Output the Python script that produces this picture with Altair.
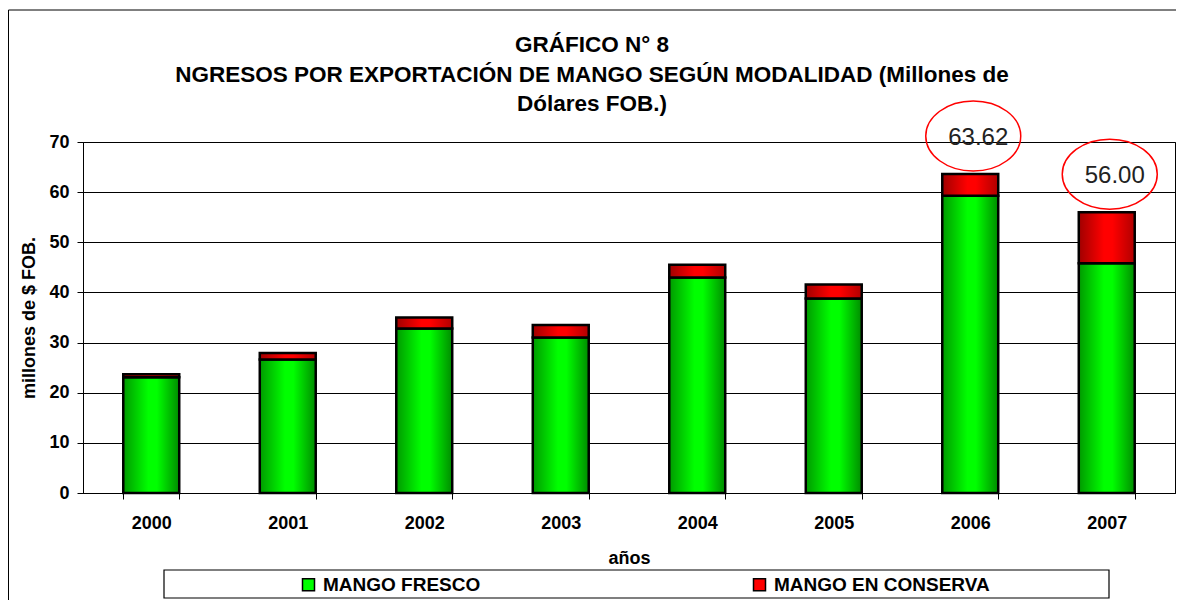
import altair as alt
import pandas as pd

# ---- data ----
years = ["2000", "2001", "2002", "2003", "2004", "2005", "2006", "2007"]
fresco = [23.1, 26.6, 32.8, 31.0, 43.0, 38.8, 59.3, 45.8]
conserva = [0.6, 1.3, 2.2, 2.5, 2.5, 2.8, 4.32, 10.2]
series = ["MANGO FRESCO", "MANGO EN CONSERVA"]
series_colors = ["#00ff00", "#ff0000"]
highlight_years = ["2006", "2007"]
y_ticks = [0, 10, 20, 30, 40, 50, 60, 70]
title_lines = [
    "GRÁFICO N° 8",
    "NGRESOS POR EXPORTACIÓN DE MANGO SEGÚN MODALIDAD (Millones de",
    "Dólares FOB.)",
]

df = pd.DataFrame({"year": years, "fresco": fresco, "conserva": conserva})
df["total"] = (df["fresco"] + df["conserva"]).round(2)
legend_df = pd.DataFrame({"serie": series})
one = pd.DataFrame({"k": [0]})

FONT = "Liberation Sans"
W, H = 1092, 351

green_grad = alt.LinearGradient(
    gradient="linear", x1=0, x2=1, y1=0, y2=0,
    stops=[
        alt.GradientStop(color="#009a00", offset=0),
        alt.GradientStop(color="#00ff00", offset=0.45),
        alt.GradientStop(color="#00ff00", offset=0.6),
        alt.GradientStop(color="#008c00", offset=1),
    ],
)
red_grad = alt.LinearGradient(
    gradient="linear", x1=0, x2=1, y1=0, y2=0,
    stops=[
        alt.GradientStop(color="#a00000", offset=0),
        alt.GradientStop(color="#ff0000", offset=0.45),
        alt.GradientStop(color="#ff0000", offset=0.6),
        alt.GradientStop(color="#b00000", offset=1),
    ],
)

x_enc = alt.X(
    "year:N",
    sort=years,
    scale=alt.Scale(paddingInner=0.59, paddingOuter=0.295),
    axis=alt.Axis(
        title="años",
        labelAngle=0,
        tickBand="extent",
        tickSize=6,
        labelPadding=15,
        titlePadding=17,
        labelFontSize=18,
        labelFontWeight="bold",
        titleFontSize=18,
        titleFontWeight="bold",
    ),
)
y_scale = alt.Scale(domain=[0, 70], nice=False, zero=True)
y_axis = alt.Axis(
    title="millones de $ FOB.",
    values=y_ticks,
    tickSize=6,
    labelPadding=8,
    titlePadding=10,
    grid=True,
    labelFontSize=18,
    labelFontWeight="bold",
    titleFontSize=18,
    titleFontWeight="bold",
)

base = alt.Chart(df)

frame = alt.Chart(one).mark_rect(fillOpacity=0, stroke="black", strokeWidth=1).encode(
    x=alt.value(-74.5), x2=alt.value(1400), y=alt.value(-132), y2=alt.value(700)
)
legend_box = alt.Chart(one).mark_rect(fillOpacity=0, stroke="black", strokeWidth=1.2).encode(
    x=alt.value(81), x2=alt.value(1026), y=alt.value(428), y2=alt.value(456)
)

# title lines as text marks (one layer per line)
title_layers = [
    alt.Chart(pd.DataFrame({"t": [line]})).mark_text(
        font=FONT, fontSize=22.5, fontWeight="bold", color="black",
        align="center", baseline="middle",
    ).encode(x=alt.value(509), y=alt.value(yy), text="t:N")
    for line, yy in zip(title_lines, [-97, -67, -38])
]

bars_fresco = base.mark_bar(fill=green_grad, stroke="black", strokeWidth=2.5).encode(
    x=x_enc, y=alt.Y("fresco:Q", scale=y_scale, axis=y_axis)
)
bars_conserva = base.mark_bar(fill=red_grad, stroke="black", strokeWidth=2.5).encode(
    x=x_enc, y=alt.Y("fresco:Q", scale=y_scale, axis=y_axis), y2="total:Q"
)

legend_pts = alt.Chart(legend_df).mark_point(filled=True, opacity=0, shape="square").encode(
    color=alt.Color(
        "serie:N",
        scale=alt.Scale(domain=series, range=series_colors),
        legend=alt.Legend(
            title=None,
            orient="none",
            legendX=216,
            legendY=433,
            direction="horizontal",
            columnPadding=269,
            padding=0,
            symbolType="square",
            symbolSize=144,
            symbolStrokeColor="black",
            symbolStrokeWidth=1.5,
            symbolOpacity=1,
            labelFont=FONT,
            labelFontSize=19,
            labelFontWeight="bold",
            labelColor="black",
            labelOffset=5,
            labelLimit=400,
        ),
    )
)

hl = base.transform_filter(alt.FieldOneOfPredicate(field="year", oneOf=highlight_years))
ellipse_path = "M -1 0 A 1 0.737 0 1 1 1 0 A 1 0.737 0 1 1 -1 0 Z"
ellipses = hl.mark_point(
    shape=ellipse_path, size=9025, filled=False, color="#ff0000",
    strokeWidth=1.5, opacity=1, xOffset=3, yOffset=-38,
).encode(x=x_enc, y=alt.Y("total:Q", scale=y_scale, axis=y_axis))
labels = hl.mark_text(
    font="Liberation Sans Narrow, Arial Narrow, Liberation Sans",
    fontSize=24, color="#222222", dx=8, dy=-36,
).encode(
    x=x_enc,
    y=alt.Y("total:Q", scale=y_scale, axis=y_axis),
    text=alt.Text("total:Q", format=".2f"),
)

chart = (
    alt.layer(frame, legend_box, *title_layers, bars_fresco, bars_conserva,
              legend_pts, ellipses, labels)
    .properties(
        width=W,
        height=H,
        autosize=alt.AutoSizeParams(type="none"),
        padding={"left": 75, "top": 134, "right": 1, "bottom": 107},
    )
    .configure(font=FONT, background="white")
    .configure_view(stroke="black", strokeWidth=1)
    .configure_axis(
        domainColor="black",
        tickColor="black",
        gridColor="black",
        gridOpacity=1,
        gridWidth=1,
        labelColor="black",
        titleColor="black",
        labelFont=FONT,
        titleFont=FONT,
    )
)

chart.save("out.html", embed_options={"renderer": "svg", "actions": False})
